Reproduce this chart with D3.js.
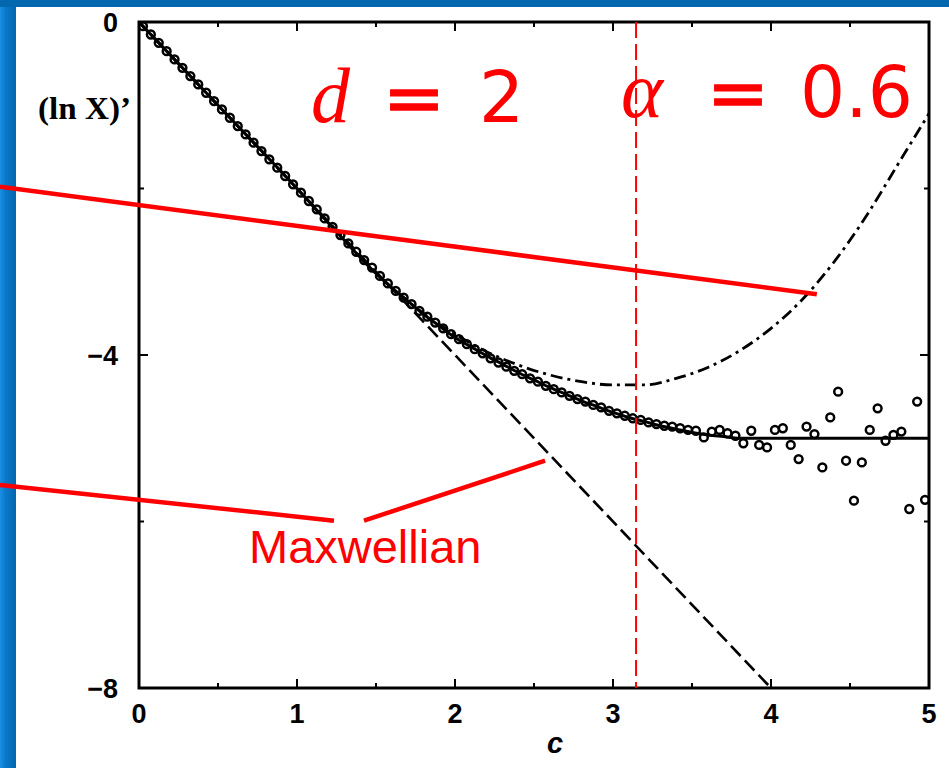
<!DOCTYPE html>
<html>
<head>
<meta charset="utf-8">
<script src="https://cdn.jsdelivr.net/npm/d3@7"></script>
<style>
  html, body { margin: 0; padding: 0; background: #ffffff; }
  svg { display: block; }
</style>
</head>
<body>
<svg id="chart" width="949" height="768"></svg>
<script>
// ---- axis ticks ----
const xTicks = [0, 1, 2, 3, 4, 5];
const xMinorTicks = [0.5, 1.5, 2.5, 3.5, 4.5];
const yTicks = [0, -4, -8];
const yMinorTicks = [-2, -6];

// ---- simulation points: (ln X)' versus c ----
const simC = [
  0.025, 0.075, 0.125, 0.175, 0.225, 0.275, 0.325, 0.375, 0.425, 0.475,
  0.525, 0.575, 0.625, 0.675, 0.725, 0.775, 0.825, 0.875, 0.925, 0.975,
  1.025, 1.075, 1.125, 1.175, 1.225, 1.275, 1.325, 1.375, 1.425, 1.475,
  1.525, 1.575, 1.625, 1.675, 1.725, 1.775, 1.825, 1.875, 1.925, 1.975,
  2.025, 2.075, 2.125, 2.175, 2.225, 2.275, 2.325, 2.375, 2.425, 2.475,
  2.525, 2.575, 2.625, 2.675, 2.725, 2.775, 2.825, 2.875, 2.925, 2.975,
  3.025, 3.075, 3.125, 3.175, 3.225, 3.275, 3.325, 3.375, 3.425, 3.475,
  3.525, 3.575, 3.625, 3.675, 3.725, 3.775, 3.825, 3.875, 3.925, 3.975,
  4.025, 4.075, 4.125, 4.175, 4.225, 4.275, 4.325, 4.375, 4.425, 4.475,
  4.525, 4.575, 4.625, 4.675, 4.725, 4.775, 4.825, 4.875, 4.925, 4.975
];
const simValues = [
  -0.05, -0.15, -0.25, -0.35, -0.45, -0.55, -0.65, -0.75, -0.85, -0.95,
  -1.05, -1.15, -1.25, -1.35, -1.45, -1.55, -1.65, -1.75, -1.85, -1.95,
  -2.05, -2.15, -2.25, -2.36, -2.46, -2.56, -2.66, -2.76, -2.86, -2.95,
  -3.05, -3.14, -3.23, -3.31, -3.39, -3.47, -3.54, -3.61, -3.68, -3.75,
  -3.81, -3.87, -3.93, -3.98, -4.04, -4.09, -4.14, -4.19, -4.23, -4.28,
  -4.32, -4.37, -4.41, -4.45, -4.49, -4.53, -4.56, -4.60, -4.63, -4.67,
  -4.70, -4.73, -4.76, -4.78, -4.81, -4.83, -4.85, -4.86, -4.88, -4.90,
  -4.91, -4.99, -4.92, -4.90, -4.94, -4.97, -5.06, -4.91, -5.08, -5.11,
  -4.90, -4.88, -5.08, -5.25, -4.86, -4.95, -5.35, -4.75, -4.44, -5.27,
  -5.75, -5.29, -4.90, -4.64, -5.03, -4.96, -4.92, -5.85, -4.56, -5.74
];

// ---- theory: high-energy tail (solid) ----
const tailC = [0, 0.5, 1.0, 1.25, 1.5, 1.6, 1.7, 1.8, 1.9, 2.0, 2.1, 2.2, 2.3, 2.4, 2.5,
               2.6, 2.7, 2.8, 2.9, 3.0, 3.1, 3.2, 3.3, 3.4, 3.5, 3.6, 3.7, 3.8, 4.0, 4.5, 5.0];
const tailValues = [0, -1.0, -2.0, -2.52, -3.02, -3.19, -3.35, -3.51, -3.65, -3.79, -3.90,
                    -4.01, -4.11, -4.21, -4.30, -4.39, -4.47, -4.55, -4.62, -4.69, -4.75,
                    -4.80, -4.85, -4.89, -4.93, -4.96, -4.98, -5.0, -5.0, -5.0, -5.0];

// ---- theory: Sonine correction (dash-dot) ----
const sonineC = [0, 0.5, 1.0, 1.25, 1.5, 1.6, 1.8, 2.0, 2.2, 2.4, 2.6, 2.8, 3.0, 3.2,
                 3.4, 3.6, 3.8, 4.0, 4.2, 4.4, 4.6, 4.8, 5.0];
const sonineValues = [0, -1.0, -2.0, -2.52, -3.02, -3.19, -3.50, -3.75, -3.96, -4.12, -4.24,
                      -4.32, -4.36, -4.36, -4.28, -4.15, -3.95, -3.68, -3.33, -2.88, -2.34,
                      -1.72, -1.10];

// ---- Maxwellian (dashed) ----
const maxwellC = [0, 4];
const maxwellValues = [0, -8];

// ---- annotation ----
const markerC = 3.146;
const pointerUpper = [[-0.88, -1.98], [4.29, -3.27]];
const pointerLowerA = [[-0.88, -5.56], [1.234, -5.99]];
const pointerLowerB = [[1.424, -5.99], [2.57, -5.27]];

const svg = d3.select("#chart");
const W = 949, H = 768;
const plot = { left: 139, right: 929, top: 22, bottom: 688 };

// slide background
const defs = svg.append("defs");
const grad = defs.append("linearGradient").attr("id", "edge").attr("x1", 0).attr("x2", 1).attr("y1", 0).attr("y2", 0);
grad.append("stop").attr("offset", "0%").attr("stop-color", "#1890e6");
grad.append("stop").attr("offset", "35%").attr("stop-color", "#0a78c8");
grad.append("stop").attr("offset", "100%").attr("stop-color", "#0366ae");
svg.append("rect").attr("x", 0).attr("y", 0).attr("width", W).attr("height", H).attr("fill", "#0468b0");
svg.append("rect").attr("x", 0).attr("y", 7).attr("width", 16).attr("height", H - 7).attr("fill", "url(#edge)");
svg.append("rect").attr("x", 16).attr("y", 7).attr("width", W - 16).attr("height", H - 7).attr("fill", "#ffffff");

const x = d3.scaleLinear().domain([0, 5]).range([plot.left, plot.right]);
const y = d3.scaleLinear().domain([-8, 0]).range([plot.bottom, plot.top]);

const clip = defs.append("clipPath").attr("id", "plotClip");
clip.append("rect").attr("x", plot.left).attr("y", plot.top)
  .attr("width", plot.right - plot.left).attr("height", plot.bottom - plot.top);

const g = svg.append("g").attr("clip-path", "url(#plotClip)");
const line = d3.line().x(d => x(d[0])).y(d => y(d[1]));
const smooth = d3.line().curve(d3.curveMonotoneX).x(d => x(d[0])).y(d => y(d[1]));

// Maxwellian
g.append("path").datum(d3.zip(maxwellC, maxwellValues))
  .attr("d", line).attr("fill", "none").attr("stroke", "#000")
  .attr("stroke-width", 2.6).attr("stroke-dasharray", "14,6");

// Sonine approximation
g.append("path").datum(d3.zip(sonineC, sonineValues))
  .attr("d", smooth)
  .attr("fill", "none").attr("stroke", "#000")
  .attr("stroke-width", 2.8).attr("stroke-dasharray", "12,5,3,5");

// exponential tail
g.append("path").datum(d3.zip(tailC, tailValues))
  .attr("d", smooth)
  .attr("fill", "none").attr("stroke", "#000").attr("stroke-width", 3);

// simulation points
g.selectAll("circle.sim").data(d3.zip(simC, simValues)).join("circle")
  .attr("class", "sim")
  .attr("cx", d => x(d[0])).attr("cy", d => y(d[1]))
  .attr("r", 3.9).attr("fill", "none").attr("stroke", "#000").attr("stroke-width", 2.5);

// frame
svg.append("rect").attr("x", plot.left).attr("y", plot.top)
  .attr("width", plot.right - plot.left).attr("height", plot.bottom - plot.top)
  .attr("fill", "none").attr("stroke", "#000").attr("stroke-width", 3);

// ticks (inward on all four sides)
const axG = svg.append("g").attr("stroke", "#000").attr("stroke-width", 2);
const majorLen = 9, minorLen = 5;
xTicks.forEach(v => {
  axG.append("line").attr("x1", x(v)).attr("x2", x(v)).attr("y1", plot.bottom).attr("y2", plot.bottom - majorLen);
  axG.append("line").attr("x1", x(v)).attr("x2", x(v)).attr("y1", plot.top).attr("y2", plot.top + majorLen);
});
xMinorTicks.forEach(v => {
  axG.append("line").attr("x1", x(v)).attr("x2", x(v)).attr("y1", plot.bottom).attr("y2", plot.bottom - minorLen);
  axG.append("line").attr("x1", x(v)).attr("x2", x(v)).attr("y1", plot.top).attr("y2", plot.top + minorLen);
});
yTicks.forEach(v => {
  axG.append("line").attr("y1", y(v)).attr("y2", y(v)).attr("x1", plot.left).attr("x2", plot.left + majorLen);
  axG.append("line").attr("y1", y(v)).attr("y2", y(v)).attr("x1", plot.right).attr("x2", plot.right - majorLen);
});
yMinorTicks.forEach(v => {
  axG.append("line").attr("y1", y(v)).attr("y2", y(v)).attr("x1", plot.left).attr("x2", plot.left + minorLen);
  axG.append("line").attr("y1", y(v)).attr("y2", y(v)).attr("x1", plot.right).attr("x2", plot.right - minorLen);
});

// tick labels
const fmt = d3.format("d");
svg.append("g").selectAll("text").data(xTicks).join("text")
  .attr("x", d => x(d)).attr("y", 723)
  .attr("text-anchor", "middle")
  .attr("font-family", "'Liberation Sans', Arial, sans-serif")
  .attr("font-weight", "bold").attr("font-size", 27)
  .text(d => fmt(d));
svg.append("g").selectAll("text").data(yTicks).join("text")
  .attr("x", 118).attr("y", d => y(d) + 10)
  .attr("text-anchor", "end")
  .attr("font-family", "'Liberation Sans', Arial, sans-serif")
  .attr("font-weight", "bold").attr("font-size", 27)
  .text(d => fmt(d));

// axis titles
svg.append("text").attr("x", 131).attr("y", 119).attr("text-anchor", "end")
  .attr("font-family", "'Liberation Serif', 'Times New Roman', serif")
  .attr("font-weight", "bold").attr("font-size", 31)
  .attr("textLength", 93).attr("lengthAdjust", "spacingAndGlyphs")
  .text("(ln X)\u2019");
svg.append("text").attr("x", 555).attr("y", 753).attr("text-anchor", "middle")
  .attr("font-family", "'Liberation Sans', Arial, sans-serif")
  .attr("font-weight", "bold").attr("font-style", "italic").attr("font-size", 29)
  .text("c");

// red annotations
const red = "#ff0000";
svg.append("line")
  .attr("x1", x(markerC)).attr("x2", x(markerC)).attr("y1", plot.top).attr("y2", plot.bottom)
  .attr("stroke", red).attr("stroke-width", 2).attr("stroke-dasharray", "16,6");

[pointerUpper, pointerLowerA, pointerLowerB].forEach(seg => {
  svg.append("path").datum(seg).attr("d", line)
    .attr("stroke", red).attr("stroke-width", 4.5).attr("fill", "none");
});

svg.append("text").attr("x", 249).attr("y", 563)
  .attr("font-family", "'Liberation Sans', Arial, sans-serif")
  .attr("font-size", 47).attr("fill", red).text("Maxwellian");

const ann = svg.append("g").attr("fill", red);
ann.append("text").attr("x", 311).attr("y", 122)
  .attr("font-family", "'Liberation Serif', 'Times New Roman', serif")
  .attr("font-style", "italic").attr("font-size", 78).text("d");
ann.append("text").attr("x", 383).attr("y", 122)
  .attr("font-family", "'DejaVu Sans', sans-serif").attr("font-size", 72)
  .attr("stroke", red).attr("stroke-width", 1.5)
  .attr("textLength", 62).attr("lengthAdjust", "spacingAndGlyphs").text("=");
ann.append("text").attr("x", 479).attr("y", 122)
  .attr("font-family", "'DejaVu Sans', sans-serif").attr("font-size", 71).text("2");
ann.append("text").attr("x", 621).attr("y", 117)
  .attr("font-family", "'Liberation Serif', 'Times New Roman', serif")
  .attr("font-style", "italic").attr("font-size", 80).text("\u03b1");
ann.append("text").attr("x", 707).attr("y", 117)
  .attr("font-family", "'DejaVu Sans', sans-serif").attr("font-size", 72)
  .attr("stroke", red).attr("stroke-width", 1.5)
  .attr("textLength", 62).attr("lengthAdjust", "spacingAndGlyphs").text("=");
ann.append("text").attr("x", 800).attr("y", 117)
  .attr("font-family", "'DejaVu Sans', sans-serif").attr("font-size", 71).text("0.6");
</script>
</body>
</html>
